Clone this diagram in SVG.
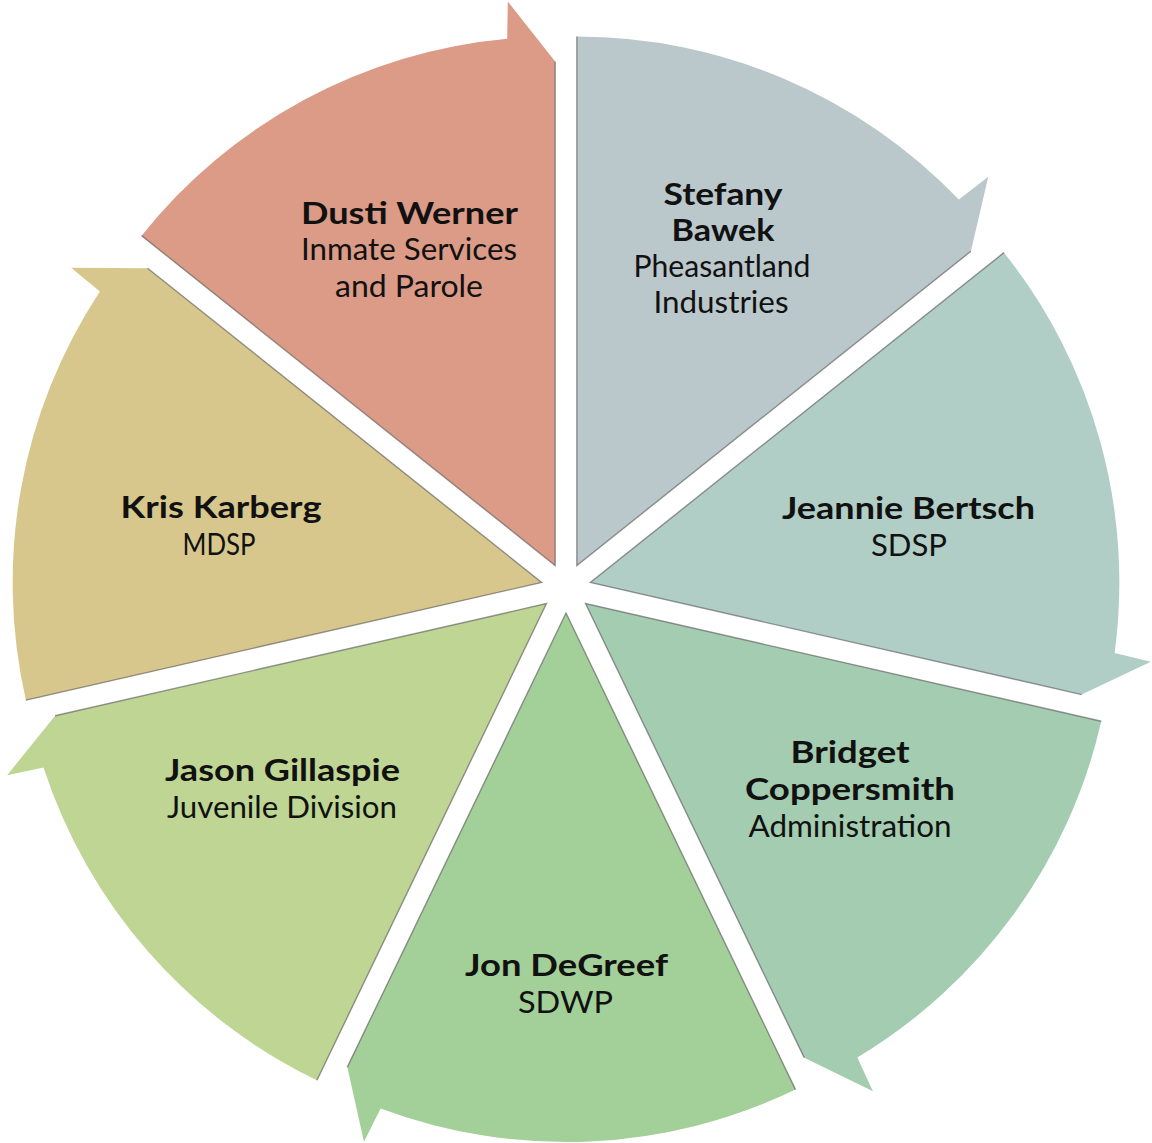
<svg xmlns="http://www.w3.org/2000/svg" xmlns:xlink="http://www.w3.org/1999/xlink" width="1152" height="1143" viewBox="0 0 1152 1143">
  <defs>
    <!-- One segment of the cycle, apex at origin, bisector pointing up; arrow barb on the clockwise end -->
    <path id="seg" d="M0,0 L-229.52,-476.61 A529,529 0 0,1 185.38,-495.45 L202.05,-528.71 L218.68,-454.09 Z"/>
    <!-- the two straight radial edges, drawn with a thin dark line -->
    <path id="segEdge" d="M-229.52,-476.61 L0,0 L218.68,-454.09"/>
  </defs>
  <style>
    .edge { fill: none; stroke: #5e5e5e; stroke-width: 1.4; stroke-opacity: 0.65; stroke-linejoin: miter; }
    text { font-family: "Lato", "Noto Sans", "Liberation Sans", sans-serif; font-size: 30px; fill: #111111; text-anchor: middle; }
    .name { font-weight: bold; }
  </style>

  <rect width="1152" height="1143" fill="#ffffff"/>

  <g id="stefany">
    <g transform="translate(566,588) rotate(25.7143) translate(0,-25)">
      <use xlink:href="#seg" fill="#BAC7CB"/>
      <use xlink:href="#segEdge" class="edge"/>
    </g>
    <text class="name" x="723" y="205" textLength="119" lengthAdjust="spacingAndGlyphs">Stefany</text>
    <text class="name" x="723" y="241" textLength="103" lengthAdjust="spacingAndGlyphs">Bawek</text>
    <text x="722" y="277" textLength="177" lengthAdjust="spacingAndGlyphs">Pheasantland</text>
    <text x="721" y="313" textLength="135" lengthAdjust="spacingAndGlyphs">Industries</text>
  </g>

  <g id="jeannie">
    <g transform="translate(566,588) rotate(77.1429) translate(0,-25)">
      <use xlink:href="#seg" fill="#B1CEC6"/>
      <use xlink:href="#segEdge" class="edge"/>
    </g>
    <text class="name" x="908.5" y="519" textLength="253" lengthAdjust="spacingAndGlyphs">Jeannie Bertsch</text>
    <text x="909" y="556" textLength="76" lengthAdjust="spacingAndGlyphs">SDSP</text>
  </g>

  <g id="bridget">
    <g transform="translate(566,588) rotate(128.5714) translate(0,-25)">
      <use xlink:href="#seg" fill="#A3CCB0"/>
      <use xlink:href="#segEdge" class="edge"/>
    </g>
    <text class="name" x="850" y="763" textLength="119" lengthAdjust="spacingAndGlyphs">Bridget</text>
    <text class="name" x="850" y="800" textLength="210" lengthAdjust="spacingAndGlyphs">Coppersmith</text>
    <text x="850" y="836.5" textLength="203" lengthAdjust="spacingAndGlyphs">Administration</text>
  </g>

  <g id="jon">
    <g transform="translate(566,588) rotate(180) translate(0,-25)">
      <use xlink:href="#seg" fill="#A3CF99"/>
      <use xlink:href="#segEdge" class="edge"/>
    </g>
    <text class="name" x="566.5" y="976" textLength="203" lengthAdjust="spacingAndGlyphs">Jon DeGreef</text>
    <text x="565.5" y="1012.5" textLength="95" lengthAdjust="spacingAndGlyphs">SDWP</text>
  </g>

  <g id="jason">
    <g transform="translate(566,588) rotate(231.4286) translate(0,-25)">
      <use xlink:href="#seg" fill="#BED594"/>
      <use xlink:href="#segEdge" class="edge"/>
    </g>
    <text class="name" x="282.5" y="781" textLength="235" lengthAdjust="spacingAndGlyphs">Jason Gillaspie</text>
    <text x="282" y="817.5" textLength="230" lengthAdjust="spacingAndGlyphs">Juvenile Division</text>
  </g>

  <g id="kris">
    <g transform="translate(566,588) rotate(282.8571) translate(0,-25)">
      <use xlink:href="#seg" fill="#D8C78C"/>
      <use xlink:href="#segEdge" class="edge"/>
    </g>
    <text class="name" x="221" y="518" textLength="201" lengthAdjust="spacingAndGlyphs">Kris Karberg</text>
    <text x="219" y="555" textLength="73" lengthAdjust="spacingAndGlyphs">MDSP</text>
  </g>

  <g id="dusti">
    <g transform="translate(566,588) rotate(334.2857) translate(0,-25)">
      <use xlink:href="#seg" fill="#DB9B86"/>
      <use xlink:href="#segEdge" class="edge"/>
    </g>
    <text class="name" x="409.5" y="224" textLength="217" lengthAdjust="spacingAndGlyphs">Dusti Werner</text>
    <text x="409" y="260" textLength="216" lengthAdjust="spacingAndGlyphs">Inmate Services</text>
    <text x="409" y="296.5" textLength="148" lengthAdjust="spacingAndGlyphs">and Parole</text>
  </g>

  <!-- the cycle's arrows are the segment barbs themselves; no separate connectors -->
  <g id="connectors"/>
</svg>
